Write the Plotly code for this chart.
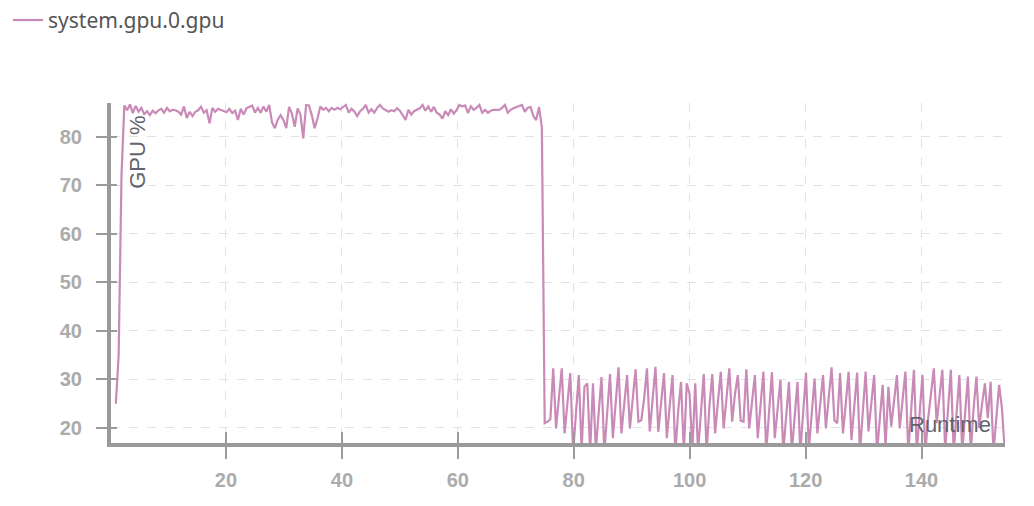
import plotly.graph_objects as go

# system.gpu.0.gpu, sampled every ~0.49 runtime units starting at 1.0
runtime_start = 1.0
runtime_step = 0.49
gpu_util = [
    25.0, 35.0, 72.0, 86.5, 85.5, 86.7, 84.9, 86.4, 85.2, 86.0,
    84.7, 85.3, 84.5, 85.4, 84.9, 85.5, 85.8, 85.0, 86.0, 85.3,
    85.6, 85.5, 85.2, 84.6, 86.3, 83.9, 85.2, 84.3, 85.2, 85.5,
    86.2, 85.0, 85.5, 82.8, 86.0, 85.2, 85.8, 85.6, 85.4, 85.1,
    85.8, 84.9, 85.4, 83.5, 85.8, 84.6, 85.9, 86.2, 86.5, 85.0,
    86.0, 85.0, 86.3, 85.2, 86.6, 83.0, 81.8, 83.5, 84.5, 83.5,
    81.8, 86.2, 84.8, 82.1, 85.9, 84.6, 79.7, 86.6, 86.5, 84.5,
    81.8, 83.8, 86.3, 85.6, 86.0, 85.3, 86.0, 85.6, 86.0, 85.7,
    86.2, 86.6, 85.0, 85.8, 85.2, 84.3, 85.3, 85.8, 86.6, 85.0,
    85.7, 85.0, 86.0, 86.6, 85.9, 85.6, 85.2, 85.5, 85.3, 85.9,
    85.4, 84.5, 83.5, 85.6, 84.6, 85.3, 85.6, 85.9, 86.6, 85.4,
    86.3, 85.2, 86.2, 85.0, 84.6, 83.8, 85.3, 84.5, 85.7, 84.8,
    85.6, 86.6, 86.3, 86.5, 84.9, 86.3, 85.6, 86.0, 86.6, 85.0,
    85.6, 85.0, 85.4, 85.6, 85.6, 85.6, 86.0, 86.6, 85.0, 85.6,
    85.9, 86.2, 86.4, 86.6, 85.2, 86.0, 86.2, 84.3, 83.5, 86.2,
    82.0, 21.0, 21.3, 21.8, 32.3, 19.9, 26.0, 32.3, 18.9, 25.0,
    31.3, 15.0, 23.5, 30.9, 15.5, 28.5, 29.2, 15.0, 29.2, 15.5,
    23.0, 30.5, 15.0, 24.0, 31.1, 17.9, 25.5, 32.5, 18.9, 25.5,
    30.9, 19.9, 26.0, 32.1, 21.3, 21.6, 26.0, 32.3, 19.3, 26.0,
    32.6, 19.2, 25.5, 31.3, 17.9, 24.5, 30.9, 15.0, 23.5, 29.5,
    15.0, 29.2, 27.0, 15.5, 29.2, 15.0, 24.0, 31.1, 15.0, 24.5,
    31.1, 18.9, 25.5, 31.6, 19.9, 26.0, 32.3, 21.3, 27.0, 30.9,
    21.5, 21.3, 32.1, 19.9, 26.0, 30.9, 17.9, 24.5, 31.6, 15.0,
    23.5, 31.5, 17.9, 24.0, 29.9, 15.0, 23.0, 29.5, 15.0, 23.0,
    29.5, 15.0, 23.5, 31.4, 15.5, 23.0, 30.2, 18.9, 25.0, 30.9,
    19.9, 26.0, 32.5, 21.6, 21.0, 31.3, 18.9, 25.0, 31.6, 17.5,
    24.0, 31.4, 15.0, 23.5, 31.6, 19.3, 25.5, 30.9, 15.0, 22.5,
    28.9, 16.0, 28.5, 20.3, 25.5, 30.9, 19.9, 25.5, 31.6, 15.0,
    23.5, 32.0, 15.0, 23.5, 30.9, 15.0, 22.0, 27.0, 32.3, 21.0,
    26.5, 32.0, 15.5, 24.0, 32.0, 15.0, 24.0, 30.9, 15.0, 23.5,
    30.6, 15.0, 24.0, 30.6, 20.0, 25.0, 29.2, 22.0, 29.5, 15.0,
    22.0, 28.9, 24.0, 15.0,
]

x_ticks = [20, 40, 60, 80, 100, 120, 140]
y_ticks = [20, 30, 40, 50, 60, 70, 80]
x_range = [0.17, 154.4]
y_range = [16.9, 87.0]

line_color = "#c98ab7"
axis_color = "#9a9a9a"
grid_color = "#e2e2e2"

fig = go.Figure(
    data=[
        go.Scatter(
            x0=runtime_start,
            dx=runtime_step,
            y=gpu_util,
            mode="lines",
            name="system.gpu.0.gpu",
            line=dict(color=line_color, width=2.2),
            hoverinfo="skip",
        )
    ]
)

tick_font = dict(family="Liberation Sans", size=20, color="#ababab", weight="bold")

# the page body adds an 8px offset, so the margins are 8px smaller than measured
fig.update_layout(
    width=1034,
    height=506,
    paper_bgcolor="white",
    plot_bgcolor="white",
    margin=dict(l=103, r=37, t=95, b=71, autoexpand=False),
    showlegend=True,
    legend=dict(
        xref="paper", yref="paper",
        x=-0.1152, y=1.243, xanchor="left", yanchor="middle",
        font=dict(family="Noto Sans", size=21, color="#555555"),
        bgcolor="rgba(0,0,0,0)",
        itemwidth=30,
    ),
    xaxis=dict(
        range=x_range,
        tickvals=x_ticks,
        ticks="outside", ticklen=12, tickwidth=2, tickcolor=axis_color,
        ticklabelstandoff=4,
        tickfont=tick_font,
        showline=True, linecolor=axis_color, linewidth=4,
        showgrid=True, gridcolor=grid_color, griddash="dash", gridwidth=1,
        zeroline=False,
    ),
    yaxis=dict(
        range=y_range,
        tickvals=y_ticks,
        ticks="outside", ticklen=11, tickwidth=2, tickcolor=axis_color,
        ticklabelstandoff=10,
        tickfont=tick_font,
        showline=True, linecolor=axis_color, linewidth=4,
        showgrid=True, gridcolor=grid_color, griddash="dash", gridwidth=1,
        zeroline=False,
    ),
    # second pair of axes only to draw the inner half of the tick marks
    xaxis2=dict(
        overlaying="x", matches="x", range=x_range, tickvals=x_ticks,
        ticks="inside", ticklen=11, tickwidth=2, tickcolor=axis_color,
        showticklabels=False, showgrid=False, zeroline=False, showline=False,
    ),
    yaxis2=dict(
        overlaying="y", matches="y", range=y_range, tickvals=y_ticks,
        ticks="inside", ticklen=6, tickwidth=2, tickcolor=axis_color,
        showticklabels=False, showgrid=False, zeroline=False, showline=False,
    ),
    annotations=[
        dict(
            text="GPU %", xref="paper", yref="paper", x=0.03, y=0.856,
            xanchor="center", yanchor="middle",
            textangle=-90, showarrow=False,
            font=dict(family="Liberation Sans", size=22, color="#63636e"),
        ),
        dict(
            text="Runtime", xref="paper", yref="paper", x=0.987, y=0.053,
            xanchor="right", yanchor="middle", showarrow=False,
            font=dict(family="Liberation Sans", size=22, color="#63636e"),
        ),
    ],
)

fig.add_trace(
    go.Scatter(x=[], y=[], xaxis="x2", yaxis="y2", showlegend=False, hoverinfo="skip")
)

fig.write_html("out.html", config=dict(displayModeBar=False))
